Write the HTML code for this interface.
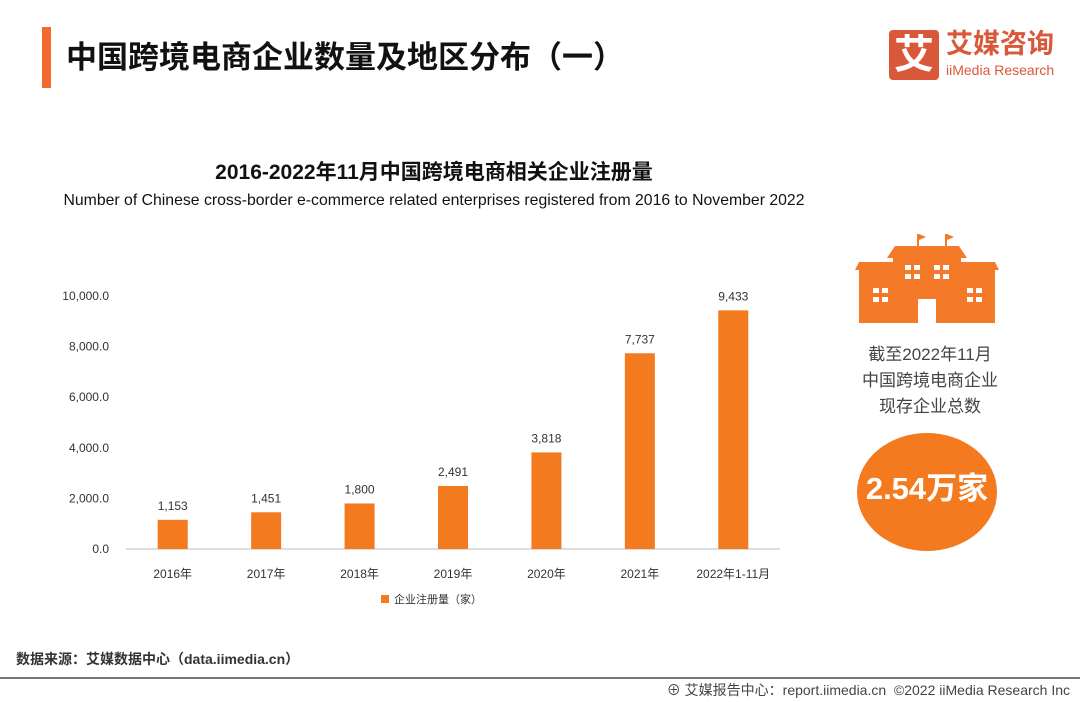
<!DOCTYPE html>
<html><head><meta charset="utf-8">
<style>
body{margin:0;width:1080px;height:702px;background:#fff;position:relative;overflow:hidden;font-family:"Liberation Sans","Noto Sans CJK SC",sans-serif;}
.abs{position:absolute;}
</style></head><body>
<div class="abs" style="left:42px;top:27px;width:9px;height:61px;background:#f26a30;"></div>
<div class="abs" style="left:66px;top:32px;font-size:31px;font-weight:bold;color:#111;">中国跨境电商企业数量及地区分布（一）</div>
<div class="abs" style="left:889px;top:30px;width:50px;height:50px;background:#d9583a;border-radius:4px;color:#fff;font-size:40px;font-weight:bold;text-align:center;line-height:50px;">艾</div>
<div class="abs" style="left:946px;top:28px;font-size:27px;font-weight:bold;color:#d9583a;line-height:32px;">艾媒咨询</div>
<div class="abs" style="left:946px;top:62px;font-size:14px;color:#d9583a;">iiMedia Research</div>

<div class="abs" style="left:0;width:868px;top:156px;text-align:center;font-size:21px;font-weight:bold;color:#111;">2016-2022年11月中国跨境电商相关企业注册量</div>
<div class="abs" style="left:0;width:868px;top:192px;text-align:center;font-size:15.8px;color:#111;">Number of Chinese cross-border e-commerce related enterprises registered from 2016 to November 2022</div>

<svg class="abs" style="left:0;top:0" width="1080" height="702" id="chart"></svg>

<svg class="abs" style="left:855px;top:232px" width="144" height="92">
<g fill="#f47a2a">
<rect x="4" y="34" width="38" height="57"/><polygon points="0,38 46,38 42,30 4,30"/>
<rect x="102" y="34" width="38" height="57"/><polygon points="98,38 144,38 140,30 102,30"/>
<rect x="38" y="24" width="68" height="67"/><polygon points="32,26 112,26 104,14 40,14"/>
<rect x="62" y="2" width="2" height="14"/><polygon points="64,2 71,5 64,8"/>
<rect x="90" y="2" width="2" height="14"/><polygon points="92,2 99,5 92,8"/>
</g>
<g fill="#fff">
<rect x="63" y="67" width="18" height="24"/>
<rect x="50" y="33" width="6" height="5"/><rect x="59" y="33" width="6" height="5"/><rect x="50" y="42" width="6" height="5"/><rect x="59" y="42" width="6" height="5"/>
<rect x="79" y="33" width="6" height="5"/><rect x="88" y="33" width="6" height="5"/><rect x="79" y="42" width="6" height="5"/><rect x="88" y="42" width="6" height="5"/>
<rect x="18" y="56" width="6" height="5"/><rect x="27" y="56" width="6" height="5"/><rect x="18" y="65" width="6" height="5"/><rect x="27" y="65" width="6" height="5"/>
<rect x="112" y="56" width="6" height="5"/><rect x="121" y="56" width="6" height="5"/><rect x="112" y="65" width="6" height="5"/><rect x="121" y="65" width="6" height="5"/>
</g></svg>
<div class="abs" style="left:840px;width:180px;top:342px;text-align:center;font-size:17px;color:#444;line-height:26px;">截至2022年11月<br>中国跨境电商企业<br>现存企业总数</div>
<div class="abs" style="left:857px;top:433px;width:140px;height:118px;border-radius:50%;background:#f47a1f;color:#fff;font-size:31px;font-weight:bold;text-align:center;line-height:112px;">2.54万家</div>

<div class="abs" style="left:16px;top:649px;font-size:14px;color:#333;font-weight:bold;">数据来源：艾媒数据中心（data.iimedia.cn）</div>
<div class="abs" style="left:0;top:677px;width:1080px;height:2px;background:#777;"></div>
<div class="abs" style="right:10px;top:680px;font-size:14px;color:#444;">⊕ 艾媒报告中心：report.iimedia.cn &nbsp;©2022 iiMedia Research Inc</div>

<script>
const categories=["2016年","2017年","2018年","2019年","2020年","2021年","2022年1-11月"];
const values=[1153,1451,1800,2491,3818,7737,9433];
const labels=["1,153","1,451","1,800","2,491","3,818","7,737","9,433"];
const ticks=[0,2000,4000,6000,8000,10000];
const tickLabels=["0.0","2,000.0","4,000.0","6,000.0","8,000.0","10,000.0"];
const svg=document.getElementById('chart');
const NS='http://www.w3.org/2000/svg';
const x0=126,x1=780,yBase=549,yTop=296,maxV=10000;
const y=v=>yBase-(v/maxV)*(yBase-yTop);
const step=(x1-x0)/categories.length;
const xc=i=>x0+step*(i+0.5);
function mk(t,a,txt){const e=document.createElementNS(NS,t);for(const k in a)e.setAttribute(k,a[k]);if(txt!==undefined)e.textContent=txt;svg.appendChild(e);return e;}
ticks.forEach((t,i)=>{const e=mk('text',{x:109,y:y(t)+4,'text-anchor':'end','font-size':12,fill:'#333'},tickLabels[i]);

});
const ax=mk('line',{x1:x0,x2:x1,y1:yBase,y2:yBase,stroke:'#bbb','stroke-width':1});


values.forEach((v,i)=>{
const b=mk('rect',{x:xc(i)-15,y:y(v),width:30,height:yBase-y(v),fill:'#f47a1f'});


const l=mk('text',{x:xc(i),y:y(v)-10,'text-anchor':'middle','font-size':12,fill:'#333'},labels[i]);


const c=mk('text',{x:xc(i),y:578,'text-anchor':'middle','font-size':12,fill:'#333'},categories[i]);


});
const lg=mk('rect',{x:381,y:595,width:8,height:8,fill:'#f47a1f'});


const lt=mk('text',{x:394,y:603,'font-size':11,fill:'#333'},'企业注册量（家）');


</script>
</body></html>
